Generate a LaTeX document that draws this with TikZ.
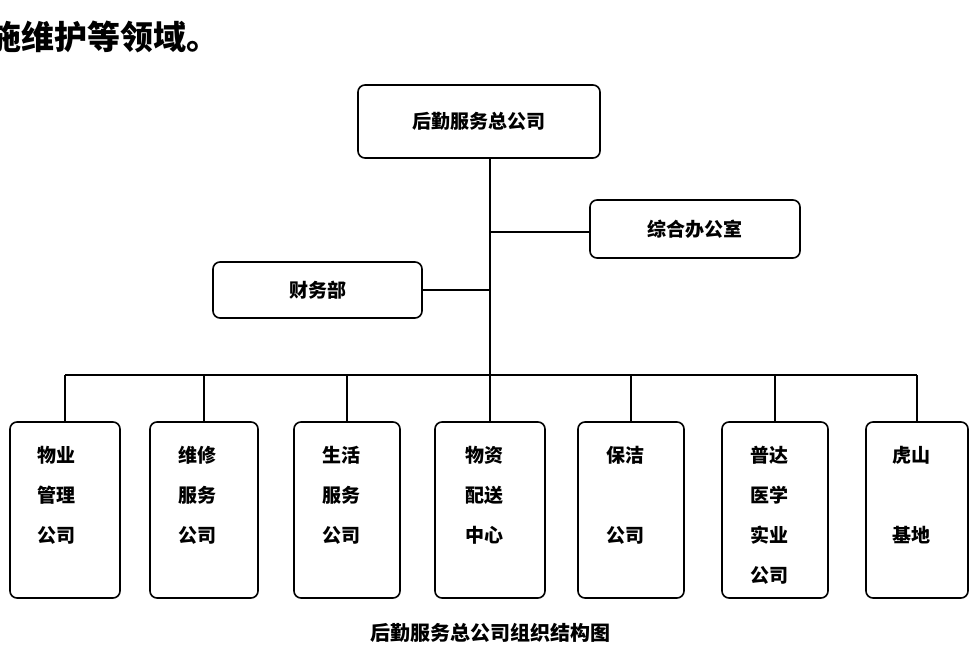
\documentclass[tikz,border=0pt]{standalone}
\usepackage{fontspec}
\newfontfamily\cjk{Noto Sans CJK SC}
\begin{document}
\begin{tikzpicture}[x=1pt,y=-1pt,
  box/.style={draw,line width=1.6pt,rounded corners=7pt},
  ln/.style={line width=1.6pt},
  t/.style={font=\cjk\bfseries\fontsize{19}{19}\selectfont,inner sep=0,anchor=west}]
\useasboundingbox (0,0) rectangle (970,655);
\begin{scope}
\clip (0,0) rectangle (970,655);
\node[font=\cjk\bfseries\fontsize{33}{33}\selectfont,anchor=west,inner sep=0] (top) at (-12,37) {施维护等领域。};
\end{scope}
\node[box,minimum width=242pt,minimum height=73pt,font=\cjk\bfseries\fontsize{19}{19}\selectfont] (ceo) at (479,121.5) {后勤服务总公司};
\node[box,minimum width=210pt,minimum height=58pt,font=\cjk\bfseries\fontsize{19}{19}\selectfont] (off) at (695,229) {综合办公室};
\node[box,minimum width=209pt,minimum height=56pt,font=\cjk\bfseries\fontsize{19}{19}\selectfont] (fin) at (317.5,290) {财务部};
\coordinate (j1) at (490,232);
\coordinate (j2) at (490,290);
\coordinate (bus) at (490,375);
\draw[ln] (ceo.south -| bus) -- (bus);
\draw[ln] (j1) -- (j1 -| off.west);
\draw[ln] (j2) -- (j2 -| fin.east);
\foreach \n/\l/\r in {b1/10/120,b2/150/258,b3/294/400,b4/435/545,b5/578/684,b6/722/828,b7/866/968}{
  \node[box,minimum width={\r-\l},minimum height=176pt] (\n) at ({(\l+\r)/2},510) {};
}
\draw[ln] (b1|-bus) -- (b7|-bus);
\foreach \n in {b1,b2,b3,b4,b5,b6,b7}{\draw[ln] (\n|-bus) -- (\n.north);}
\node[t] (a1) at (37,455) {物业}; \node[t] (a2) at (37,495) {管理}; \node[t] (a3) at (37,535) {公司};
\node[t] (c1) at (178,455) {维修}; \node[t] (c2) at (178,495) {服务}; \node[t] (c3) at (178,535) {公司};
\node[t] (d1) at (322,455) {生活}; \node[t] (d2) at (322,495) {服务}; \node[t] (d3) at (322,535) {公司};
\node[t] (e1) at (465,455) {物资}; \node[t] (e2) at (465,495) {配送}; \node[t] (e3) at (465,535) {中心};
\node[t] (f1) at (606,455) {保洁}; \node[t] (f3) at (606,535) {公司};
\node[t] (g1) at (750,455) {普达}; \node[t] (g2) at (750,495) {医学}; \node[t] (g3) at (750,535) {实业}; \node[t] (g4) at (750,575) {公司};
\node[t] (h1) at (892,455) {虎山}; \node[t] (h3) at (892,535) {基地};
\node[font=\cjk\bfseries\fontsize{20}{20}\selectfont,inner sep=0] (cap) at (490,633) {后勤服务总公司组织结构图};
\end{tikzpicture}
\end{document}
